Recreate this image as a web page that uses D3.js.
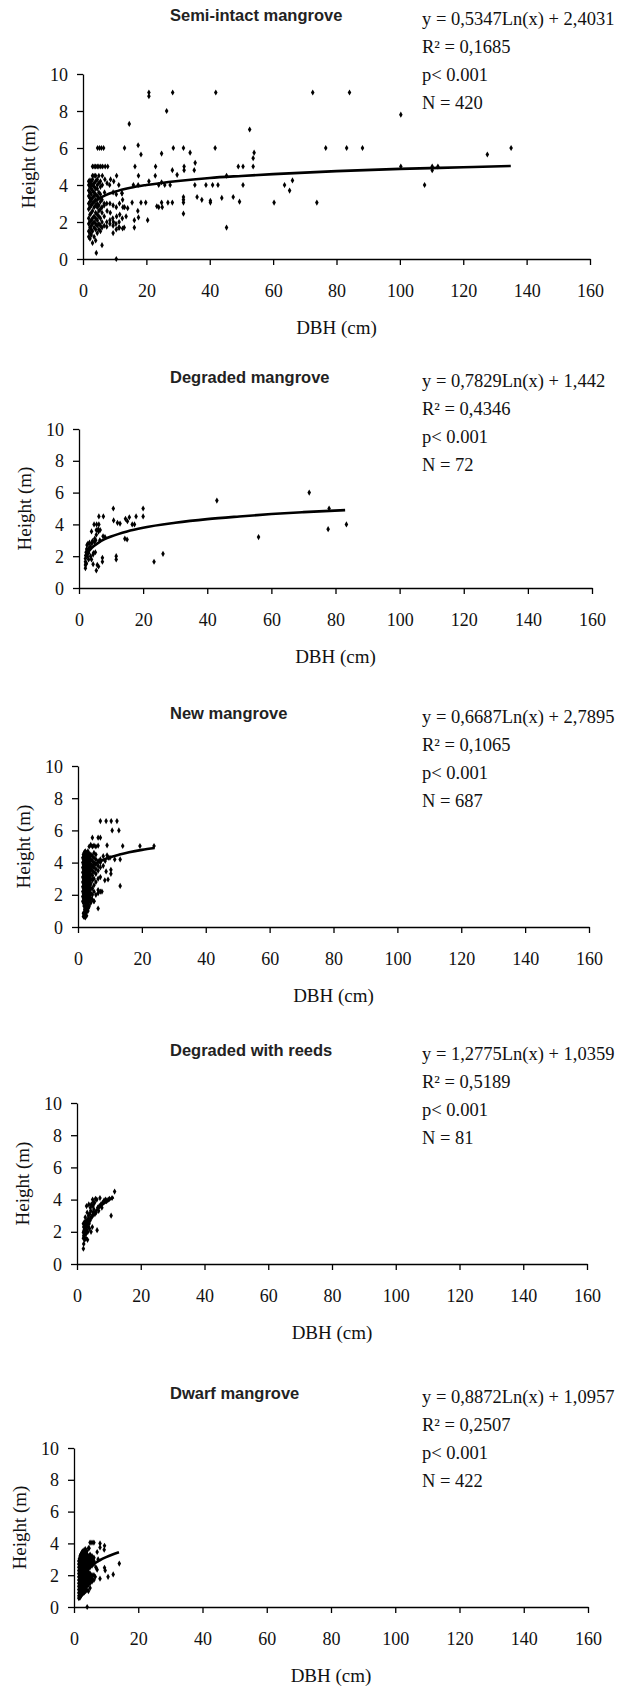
<!DOCTYPE html>
<html>
<head>
<meta charset="utf-8">
<script src="https://cdn.jsdelivr.net/npm/d3@7"></script>
<style>
  body { margin: 0; background: #fff; }
  svg { display: block; }
  .title { font-family: 'Liberation Sans', Arial, sans-serif; font-weight: bold; font-size: 16.5px; fill: #222; }
  .stats { font-family: 'Liberation Serif', 'Times New Roman', serif; font-size: 18.5px; fill: #111; }
  .axis path, .axis line { stroke: #000; stroke-width: 1.3px; }
  .axislabel { font-family: 'Liberation Serif', 'Times New Roman', serif; font-size: 19px; fill: #111; }
</style>
</head>
<body>
<div id="chart"></div>
<script>

// text of each panel
const titles = ["Semi-intact mangrove", "Degraded mangrove", "New mangrove", "Degraded with reeds", "Dwarf mangrove"];
const equations = ["y = 0,5347Ln(x) + 2,4031", "y = 0,7829Ln(x) + 1,442", "y = 0,6687Ln(x) + 2,7895", "y = 1,2775Ln(x) + 1,0359", "y = 0,8872Ln(x) + 1,0957"];
const r2Values = ["0,1685", "0,4346", "0,1065", "0,5189", "0,2507"];
const pValues = ["0.001", "0.001", "0.001", "0.001", "0.001"];
const nValues = [420, 72, 687, 81, 422];

const xTicks = [0, 20, 40, 60, 80, 100, 120, 140, 160];
const yTicks = [0, 2, 4, 6, 8, 10];

const serif = "'Liberation Serif', 'Times New Roman', serif";

// [dbh, height]
const semiIntact = [
  [1.8,1.2],[1.8,1.5],[1.8,1.9],[1.8,2.2],[1.8,2.7],[1.8,3.0],[1.8,3.4],[1.8,3.7],[1.8,4.0],[1.8,4.2],
  [2.2,1.1],[2.2,1.4],[2.2,1.7],[2.2,2.0],[2.2,2.4],[2.2,2.8],[2.2,3.1],[2.2,3.3],[2.2,3.6],[2.2,3.9],[2.2,4.1],[2.2,4.25],
  [2.6,1.3],[2.6,1.6],[2.6,1.8],[2.6,2.1],[2.6,2.5],[2.6,2.9],[2.6,3.2],[2.6,3.5],[2.6,3.8],[2.6,4.0],[2.6,4.2],
  [3.0,0.87],[3.0,1.5],[3.0,1.9],[3.0,2.2],[3.0,2.6],[3.0,3.0],[3.0,3.3],[3.0,3.7],[3.0,4.0],[3.0,4.3],[3.0,4.5],[3.0,5.0],
  [3.5,1.2],[3.5,1.7],[3.5,2.0],[3.5,2.3],[3.5,2.8],[3.5,3.1],[3.5,3.4],[3.5,3.6],[3.5,3.9],[3.5,4.1],[3.5,4.5],[3.5,5.0],
  [4.0,1.0],[4.0,1.6],[4.0,1.9],[4.0,2.2],[4.0,2.5],[4.0,2.9],[4.0,3.2],[4.0,3.5],[4.0,3.8],[4.0,4.2],[4.0,4.5],[4.0,5.0],[4.2,0.33],
  [4.5,1.4],[4.5,1.8],[4.5,2.1],[4.5,2.4],[4.5,2.8],[4.5,3.0],[4.5,3.4],[4.5,3.8],[4.5,4.0],[4.5,4.3],[4.5,5.0],[4.6,6.0],
  [5.0,1.6],[5.0,1.9],[5.0,2.3],[5.0,2.6],[5.0,2.9],[5.0,3.3],[5.0,3.6],[5.0,4.1],[5.0,4.5],[5.0,5.0],[5.2,6.0],
  [5.5,1.5],[5.5,1.8],[5.5,2.2],[5.5,2.7],[5.5,3.1],[5.5,3.5],[5.5,3.9],[5.5,4.2],[5.6,5.0],[5.8,6.0],
  [6.0,0.75],[6.0,1.7],[6.0,2.0],[6.0,2.5],[6.0,2.8],[6.0,3.2],[6.1,4.0],[6.1,4.5],[6.2,5.0],[6.5,6.0],
  [6.7,1.8],[6.7,2.3],[6.7,2.9],[6.7,3.0],[6.8,3.6],[6.9,4.3],[7.0,5.0],
  [7.5,1.75],[7.5,2.0],[7.6,2.6],[7.5,3.0],[7.6,4.1],[7.8,5.0],
  [8.5,1.9],[8.5,2.1],[8.6,2.5],[8.5,3.0],[8.4,4.0],[8.7,4.3],
  [9.5,1.4],[9.5,1.8],[9.6,2.0],[9.4,2.2],[9.5,2.9],[9.5,3.6],[9.7,4.2],
  [10.5,1.6],[10.4,1.9],[10.6,2.3],[10.5,2.8],[10.5,3.5],[10.6,4.5],[10.5,0.0],
  [11.5,1.7],[11.4,2.0],[11.6,2.4],[11.5,3.0],[11.3,4.0],
  [12.5,1.65],[12.4,2.2],[12.6,2.8],[12.5,3.2],[12.3,3.55],
  [20.8,9.0],[20.8,8.8],[28.3,9.0],[41.9,9.0],[72.5,9.0],[84.1,9.0],[26.4,8.0],[100.3,7.8],[14.6,7.3],[52.6,7.0],
  [17.4,6.15],[18.3,5.65],[13.1,6.0],[28.5,6.0],[31.7,6.0],[41.7,6.0],[76.6,6.0],[83.2,6.0],[88.2,6.0],[135.1,6.0],
  [127.6,5.65],[33.8,5.75],[24.8,5.7],[35.4,5.2],[54,5.75],[53.7,5.45],[53.7,5.0],[49,5.0],[50.5,5.0],[100.3,5.0],
  [110.2,5.0],[110.2,4.8],[112,5.0],[22.9,5.0],[16.4,5.0],[31.9,5.0],[31.9,4.8],[28.2,4.8],[29.7,4.55],[35.1,4.8],
  [45.3,4.5],[22.8,4.5],[17.5,4.5],[24.8,4.15],[25.8,4.0],[27.5,4.0],[23.9,4.0],[20.8,4.2],[15.9,4.0],[17.4,4.0],
  [35.3,4.0],[38.8,4.0],[40.9,4.0],[42.6,4.0],[50.5,4.0],[63.6,4.0],[65.2,3.7],[66.1,4.25],[107.8,4.0],[31.7,3.35],
  [31.7,3.2],[31.7,3.05],[36,3.35],[37.5,3.2],[40.2,3.15],[40.2,3.05],[43.8,3.3],[47.4,3.35],[49.4,3.1],[60.3,3.05],
  [73.8,3.05],[45.3,1.7],[31.7,2.45],[28.2,3.05],[26.8,3.05],[24.8,3.05],[25,2.8],[23.9,2.8],[23.3,2.85],[19.8,3.05],
  [18.3,3.05],[20.4,2.1],[16.2,2.1],[16.2,1.7],[17.3,2.6],[17.5,2.25],[15.5,3.05],[14.1,2.75],[13.6,2.3],[13,1.7],
  [11.3,1.7],[13.1,2.8],[12.3,3.55]
];

const degraded = [
  [2.0,1.25],[2.0,1.45],[2.0,1.65],[2.0,1.85],[2.1,2.05],[2.2,2.25],[2.3,1.55],[2.4,2.45],[2.5,2.7],[2.6,2.0],
  [2.8,2.8],[3.0,1.8],[3.0,2.2],[3.1,2.5],[3.3,2.85],[3.5,2.6],[3.9,3.56],[3.9,1.8],[4.4,1.5],[4.4,2.1],
  [4.0,2.8],[4.2,2.95],[5.1,2.25],[4.9,3.1],[5.4,3.35],[5.4,3.65],[4.7,4.0],[6.2,4.0],[5.4,1.1],[5.7,1.45],
  [6.1,1.35],[6.2,4.5],[7.6,4.5],[6.6,3.65],[6.1,3.55],[7.5,3.25],[8.1,3.2],[7.3,1.9],[7.3,1.65],[10.7,5.0],
  [10.8,4.25],[12,4.1],[12.8,4.05],[11.6,2.0],[11.6,1.8],[14.3,3.1],[15,3.05],[14.5,4.35],[15.1,4.2],[15.7,4.45],
  [16.6,4.0],[17.3,4.0],[17.8,4.5],[20,4.5],[20,5.0],[23.4,1.65],[26.2,2.15],[43,5.5],[56,3.2],[71.8,6.0],
  [77.7,3.7],[78,5.0],[83.4,4.0],[4.5,2.2],[4.8,2.9],[5.2,3.0],[5.5,4.0],[6.0,3.7],[6.5,3.0],[3.6,2.0],
  [2.7,2.3],[2.2,1.5]
];

// dense stems: [dbh, [heights]]
const newColumns = [
  [1.5, [1.6,1.9,2.2,2.5,2.8,3.1,3.4,3.7,4.0,4.3]],
  [1.7, [0.65,0.85,1.5,1.8,2.1,2.4,2.7,3.0,3.3,3.6,3.9,4.2,4.5]],
  [1.9, [0.62,0.75,0.9,1.3,1.7,2.0,2.3,2.6,2.9,3.2,3.5,3.8,4.1,4.4,4.6]],
  [2.1, [0.7,1.1,1.6,1.9,2.2,2.5,2.8,3.1,3.4,3.7,4.0,4.3,4.65]],
  [2.3, [0.6,0.8,1.0,1.5,1.8,2.1,2.4,2.7,3.0,3.3,3.6,3.9,4.2,4.5,4.7]],
  [2.5, [0.9,1.3,1.7,2.0,2.3,2.6,2.9,3.2,3.5,3.8,4.1,4.4]],
  [2.7, [0.7,0.95,1.2,1.6,1.9,2.2,2.5,2.8,3.1,3.4,3.7,4.0,4.3,4.6]],
  [2.9, [1.1,1.5,1.8,2.1,2.4,2.7,3.0,3.3,3.6,3.9,4.2,4.5]],
  [3.1, [1.0,1.4,1.7,2.0,2.3,2.6,2.9,3.2,3.5,3.8,4.1,4.4,4.7]],
  [3.3, [1.2,1.8,2.1,2.4,2.7,3.1,3.4,3.7,4.0,4.3,4.6]],
  [3.5, [1.3,1.6,1.9,2.2,2.5,2.8,3.0,3.3,3.6,3.9,4.2,4.5,5.0]],
  [3.8, [1.6,2.0,2.3,2.6,2.9,3.2,3.5,3.8,4.1,4.4]],
  [4.0, [1.5,1.8,2.1,2.4,2.7,3.0,3.3,3.6,3.9,4.2,4.5,5.1]],
  [4.5, [1.7,2.0,2.4,2.9,3.2,3.5,3.8,4.1,4.4,5.0,5.55]],
  [5.0, [1.6,2.2,2.6,3.0,3.4,3.7,4.0,4.3,4.6,5.05]],
  [5.6, [2.0,2.8,3.3,3.6,3.9,4.2,4.5,5.0]],
  [6.3, [1.15,2.1,2.3,3.0,3.5,3.8,4.1,5.05,5.55]],
  [7.0, [2.2,3.1,3.7,4.0,4.2,5.55,6.58]]
];
const newExtra = [
  [8.8,6.58],[10.4,6.58],[12.2,6.58],[10.7,6.0],[12.8,6.0],[9.1,5.07],[14,5.03],[19.4,5.03],[23.8,5.03],[9.1,4.45],
  [7.9,4.4],[13.2,4.2],[10,4.3],[8.8,3.45],[10.3,3.55],[10.3,3.3],[8.4,2.9],[9.4,2.95],[13.2,2.55],[7.9,3.8],
  [8.5,4.1],[9.5,4.3],[11.5,4.2],[7.5,2.2],[5.0,1.6]
];

const degradedReeds = [
  [2.0,0.95],[2.1,1.25],[2.0,1.6],[2.1,1.75],[2.0,1.95],[2.2,2.1],[2.1,2.3],[2.0,2.5],[2.3,2.6],[2.4,1.8],
  [2.5,2.0],[2.6,2.2],[2.5,2.4],[2.7,2.6],[2.8,1.6],[2.9,1.9],[3.0,2.15],[3.0,2.35],[3.1,2.7],[3.0,3.6],
  [3.3,1.5],[3.4,2.0],[3.5,2.3],[3.5,2.8],[3.6,3.0],[3.7,3.7],[3.8,2.5],[3.9,2.2],[4.0,3.1],[4.1,2.7],
  [4.3,3.3],[4.4,2.0],[4.6,2.9],[4.8,2.3],[4.9,3.0],[4.9,4.0],[5.0,3.2],[5.2,3.8],[5.3,3.4],[5.5,3.8],
  [5.6,3.1],[5.8,4.05],[6.0,3.2],[6.2,4.0],[6.3,2.1],[6.5,3.5],[7.0,3.6],[7.2,4.1],[7.5,3.7],[8.0,3.8],
  [8.5,3.95],[9.0,4.0],[9.3,3.9],[9.8,4.0],[10.2,4.05],[10.7,3.0],[11.0,4.1],[11.8,4.5],[2.2,2.0],[2.6,2.9],
  [3.2,3.2],[4.5,3.7],[5.0,3.6],[3.6,2.7],[4.2,3.5],[2.4,1.5],[6.8,3.3],[7.8,3.5]
];

const dwarfColumns = [
  [1.5, [0.55,0.7,0.9,1.1,1.3,1.5,1.7,1.9,2.1,2.3,2.5,2.7,2.9]],
  [1.7, [0.6,0.85,1.05,1.25,1.45,1.65,1.85,2.05,2.25,2.45,2.65,2.85,3.05]],
  [1.9, [0.6,0.8,1.0,1.2,1.4,1.6,1.8,2.0,2.2,2.4,2.6,2.8,3.0,3.2]],
  [2.1, [0.7,0.9,1.1,1.3,1.5,1.7,1.9,2.1,2.3,2.5,2.7,2.9,3.1,3.3]],
  [2.3, [0.75,0.95,1.15,1.35,1.55,1.75,1.95,2.15,2.35,2.55,2.75,2.95,3.15,3.35]],
  [2.5, [0.8,1.0,1.2,1.4,1.6,1.8,2.0,2.2,2.4,2.6,2.8,3.0,3.2,3.45]],
  [2.7, [0.85,1.05,1.25,1.45,1.65,1.85,2.05,2.25,2.45,2.65,2.85,3.05,3.25,3.5]],
  [2.9, [0.9,1.15,1.35,1.55,1.75,1.95,2.15,2.35,2.55,2.75,2.95,3.15,3.4]],
  [3.1, [0.9,1.1,1.3,1.5,1.7,1.9,2.1,2.3,2.5,2.7,2.9,3.1,3.3,3.56]],
  [3.3, [0.95,1.25,1.45,1.65,1.85,2.05,2.25,2.45,2.65,2.85,3.05,3.25,3.5]],
  [3.5, [1.0,1.2,1.4,1.6,1.8,2.0,2.2,2.4,2.6,2.8,3.0,3.2,3.4,3.65]],
  [3.8, [1.1,1.35,1.55,1.75,1.95,2.15,2.35,2.55,2.75,2.95,3.15,3.4]],
  [4.0, [1.05,1.3,1.5,1.7,1.9,2.1,2.3,2.5,2.7,2.9,3.1,3.3,3.5]],
  [4.5, [1.0,1.4,1.6,1.8,2.0,2.2,2.4,2.6,2.8,3.0,3.2,3.7]],
  [5.0, [1.2,1.5,1.7,1.9,2.1,2.5,2.7,2.9,3.1,3.3,4.05]],
  [5.6, [1.6,1.8,2.0,2.6,2.8,3.0,3.2,4.05]],
  [6.2, [1.7,2.0,2.7,2.9,3.1,4.05]]
];
const dwarfExtra = [
  [7.2,3.46],[7.2,2.35],[8.1,4.0],[8.1,3.75],[9.5,3.85],[9.4,3.6],[3.7,3.56],[4.7,3.7],[14.1,2.73],[9.5,2.47],
  [12.2,2.05],[10.6,1.9],[8.1,1.78],[9.7,2.3],[4.1,0],[6.8,2.5],[7.5,3.0],[6.6,1.9]
];

// logarithmic trendlines as they appear on the picture
const semiIntactTrend = [[2.5,2.89],[3,2.99],[4,3.14],[5,3.26],[7,3.44],[10,3.63],[15,3.85],[20,4.0],[30,4.22],[40,4.38],[50,4.49],[60,4.59],[80,4.75],[100,4.87],[120,4.96],[135,5.03]];
const degradedTrend = [[2,1.98],[3,2.3],[4,2.53],[6,2.84],[8,3.07],[10,3.24],[15,3.56],[20,3.79],[30,4.1],[40,4.33],[50,4.5],[60,4.65],[70,4.77],[83,4.9]];
const newTrend = [[2,3.25],[3,3.52],[4,3.72],[6,3.99],[8,4.18],[10,4.33],[13,4.5],[16,4.64],[20,4.79],[24,4.91]];
const reedsTrend = [[2,1.92],[3,2.44],[4,2.81],[5,3.09],[6,3.32],[7,3.52],[8,3.69],[9,3.84],[10,3.98],[11.5,4.16]];
const dwarfTrend = [[1.5,1.46],[2,1.71],[3,2.07],[4,2.33],[5,2.52],[6,2.69],[8,2.94],[10,3.14],[12,3.3],[14,3.44]];

// flatten the column lists
function columnsToPoints(cols) {
  let pts = [];
  cols.forEach(c => c[1].forEach(h => pts.push([c[0], h])));
  return pts;
}

const pointSets = [semiIntact, degraded, columnsToPoints(newColumns).concat(newExtra),
  degradedReeds, columnsToPoints(dwarfColumns).concat(dwarfExtra)];
const trendSets = [semiIntactTrend, degradedTrend, newTrend, reedsTrend, dwarfTrend];

// where each panel sits on the page
const layout = [
  {top: 74, bottom: 259, left: 83, right: 590, titleY: 15},
  {top: 429, bottom: 588, left: 79, right: 592, titleY: 377},
  {top: 766, bottom: 927, left: 78, right: 589, titleY: 713},
  {top: 1103, bottom: 1264, left: 77, right: 587, titleY: 1050},
  {top: 1448, bottom: 1607, left: 74, right: 588, titleY: 1393}
];

let svg = d3.select("#chart").append("svg")
  .attr("width", 626)
  .attr("height", 1686);

let dot = d3.symbol().type(d3.symbolDiamond).size(11);

layout.forEach((p, i) => {

  let x = d3.scaleLinear().domain([0, 160]).range([p.left, p.right]);
  let y = d3.scaleLinear().domain([0, 10]).range([p.bottom, p.top]);

  let g = svg.append("g").attr("class", "panel");

  g.append("text")
    .attr("class", "title")
    .attr("x", 170)
    .attr("y", p.titleY + 6)
    .text(titles[i]);

  let stats = [equations[i], "R\u00B2 = " + r2Values[i], "p< " + pValues[i], "N = " + nValues[i]];
  g.selectAll("text.stats")
    .data(stats)
    .join("text")
    .attr("class", "stats")
    .attr("x", 422)
    .attr("y", (d, k) => p.titleY + 10 + k * 28)
    .style("font-family", serif)
    .text(d => d);

  let xAxis = d3.axisBottom(x).tickValues(xTicks).tickSize(6).tickSizeOuter(0);
  let yAxis = d3.axisLeft(y).tickValues(yTicks).tickSize(6).tickSizeOuter(0);

  let gx = g.append("g")
    .attr("class", "axis")
    .attr("transform", `translate(0,${p.bottom})`)
    .call(xAxis);
  gx.selectAll("text")
    .attr("y", 32)
    .attr("dy", "0.35em");

  let gy = g.append("g")
    .attr("class", "axis")
    .attr("transform", `translate(${p.left},0)`)
    .call(yAxis);
  gy.selectAll("text")
    .attr("x", -15)
    .attr("dy", "0.34em");

  g.selectAll(".axis")
    .attr("font-family", null)
    .attr("font-size", null);
  g.selectAll(".axis text")
    .attr("fill", "#111")
    .style("font-family", serif)
    .style("font-size", "18px");
  g.selectAll(".axis path, .axis line").attr("stroke", "#000");

  g.append("text")
    .attr("class", "axislabel")
    .attr("text-anchor", "middle")
    .attr("transform", `translate(${p.left - 55},${(p.top + p.bottom) / 2}) rotate(-90)`)
    .attr("dy", "0.35em")
    .style("font-family", serif)
    .text("Height (m)");

  g.append("text")
    .attr("class", "axislabel")
    .attr("text-anchor", "middle")
    .attr("x", (p.left + p.right) / 2)
    .attr("y", p.bottom + 68)
    .attr("dy", "0.35em")
    .style("font-family", serif)
    .text("DBH (cm)");

  g.selectAll("path.dot")
    .data(pointSets[i])
    .join("path")
    .attr("class", "dot")
    .attr("d", dot)
    .attr("transform", d => `translate(${x(d[0])},${y(d[1])})`)
    .attr("fill", "#000");

  let line = d3.line().x(d => x(d[0])).y(d => y(d[1])).curve(d3.curveMonotoneX);

  g.append("path")
    .datum(trendSets[i])
    .attr("d", line)
    .attr("fill", "none")
    .attr("stroke", "#000")
    .attr("stroke-width", 2.6);
});

</script>
</body>
</html>
